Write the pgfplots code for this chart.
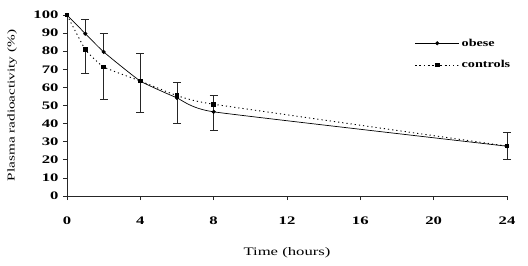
\documentclass[border=0pt]{standalone}
\usepackage{pgfplots}
\pgfplotsset{compat=1.18}
\usepackage{fontspec}
\setmainfont{Liberation Serif}
\newcommand\wide[1]{\scalebox{1.45}[1]{#1}}
\begin{document}
\begin{tikzpicture}
\useasboundingbox (0,0) rectangle (528bp,266bp);
\begin{axis}[
  at={(67bp,70bp)}, anchor=south west,
  scale only axis, width=440bp, height=181bp,
  xmin=0, xmax=24, ymin=0, ymax=100,
  clip=false,
  axis lines*=left,
  axis line style={black!85, line width=0.8pt},
  tick style={black!85, line width=0.8pt},
  tick align=outside, major tick length=4bp,
  xtick={0,4,8,12,16,20,24},
  ytick={0,10,...,100},
  /pgf/number format/assume math mode=true,
  ticklabel style={font=\bfseries\fontsize{11.5bp}{13bp}\selectfont},
  xticklabel={\wide{\pgfmathprintnumber{\tick}}},
  yticklabel={\wide{\pgfmathprintnumber{\tick}}},
  yticklabel style={xshift=-1bp},
  xticklabel style={yshift=-13bp},
  xlabel={\fontsize{11.5bp}{13bp}\selectfont\wide{Time (hours)}},
  ylabel={\fontsize{10.5bp}{12bp}\selectfont\wide{Plasma radioactivity (\%)}},
  xlabel style={at={(0.5,0)}, anchor=center, yshift=-57bp},
  ylabel style={at={(0,0.5)}, anchor=center, yshift=55bp},
  legend style={at={(rel axis cs:0.79,0.88)}, anchor=north west, draw=none, fill=none,
    font=\bfseries\fontsize{10.5bp}{12bp}\selectfont, row sep=9bp, inner sep=0pt},
  legend cell align=left,
  legend image code/.code={\draw[#1, mark repeat=2, mark phase=2] plot coordinates {(0bp,0bp) (22bp,0bp) (44bp,0bp)};},
  error bars/error bar style={black!85, line width=0.8pt},
  error bars/error mark options={black!85, line width=0.8pt, mark size=4bp, rotate=90},
]
\addplot[black, line width=0.7pt, smooth, tension=0.25, mark=*, mark size=1.7bp, mark options={solid}]
  coordinates {(0,100) (1,89.7) (2,79.6) (4,63.5) (6,54.2) (8,46.5) (24,27.5)};
\addlegendentry{\scalebox{1.35}[1]{obese}}
\addplot[black, line width=0.9pt, dash pattern=on 1.2bp off 3bp, smooth, tension=0.25, mark=square*, mark size=1.8bp, mark options={solid}]
  coordinates {(0,100) (1,80.9) (2,71.3) (4,63.5) (6,55.5) (8,50.7) (24,27.6)};
\addlegendentry{\scalebox{1.35}[1]{controls}}
\addplot[draw=none, forget plot, error bars/.cd, y dir=plus, y explicit]
  coordinates {(1,89.7) +- (0,7.7) (2,79.6) +- (0,10.3) (4,63.5) +- (0,15.2) (6,54.2) +- (0,8.3) (8,46.5) +- (0,9.3) (24,27.5) +- (0,7.7)};
\addplot[draw=none, forget plot, error bars/.cd, y dir=minus, y explicit]
  coordinates {(1,80.9) +- (0,13.3) (2,71.3) +- (0,17.8) (4,63.5) +- (0,17.4) (6,55.5) +- (0,15.5) (8,50.7) +- (0,14.3) (24,27.6) +- (0,7.2)};
\end{axis}
\end{tikzpicture}
\end{document}
